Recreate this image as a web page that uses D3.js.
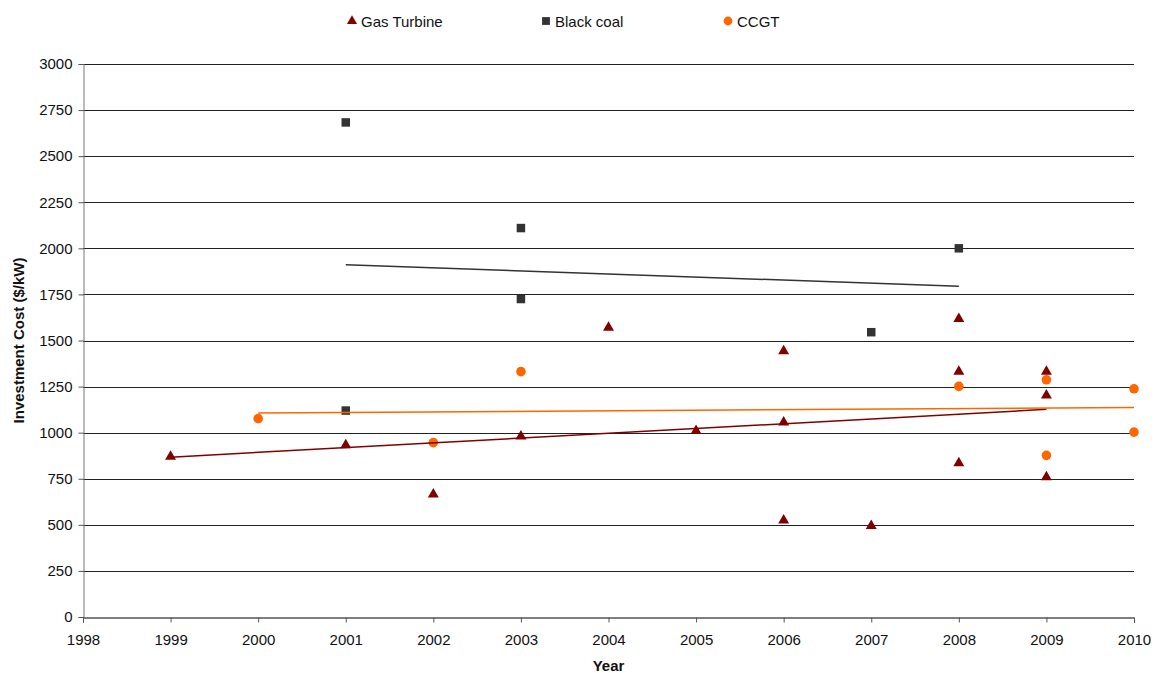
<!DOCTYPE html>
<html>
<head>
<meta charset="utf-8">
<script src="https://cdn.jsdelivr.net/npm/d3@7"></script>
<style>
  html, body { margin: 0; padding: 0; background: #fff; }
  svg text { font-family: "Liberation Sans", Arial, sans-serif; fill: #111; }
</style>
</head>
<body>
<svg id="chart" width="1155" height="673"></svg>
<script>
// Investment cost observations by year ($/kW)
const gasTurbineYears  = [1999, 2001, 2002, 2003, 2004, 2005, 2006, 2006, 2006, 2007, 2008, 2008, 2008, 2009, 2009, 2009];
const gasTurbineCosts  = [870, 932, 665, 980, 1570, 1010, 1443, 1056, 525, 495, 1617, 1332, 835, 1332, 1202, 759];

const blackCoalYears   = [2001, 2001, 2003, 2003, 2007, 2008];
const blackCoalCosts   = [2683, 1120, 2110, 1725, 1545, 2000];

const ccgtYears        = [2000, 2002, 2003, 2008, 2009, 2009, 2010, 2010];
const ccgtCosts        = [1076, 946, 1331, 1251, 1287, 877, 1238, 1003];

const seriesNames      = ["Gas Turbine", "Black coal", "CCGT"];
const xTickValues      = [1998, 1999, 2000, 2001, 2002, 2003, 2004, 2005, 2006, 2007, 2008, 2009, 2010];
const yTickValues      = [0, 250, 500, 750, 1000, 1250, 1500, 1750, 2000, 2250, 2500, 2750, 3000];

const series = [
  { name: seriesNames[0], xs: gasTurbineYears, ys: gasTurbineCosts, color: "#800000", shape: d3.symbolTriangle, size: 52 },
  { name: seriesNames[1], xs: blackCoalYears,  ys: blackCoalCosts,  color: "#333333", shape: d3.symbolSquare,   size: 72 },
  { name: seriesNames[2], xs: ccgtYears,       ys: ccgtCosts,       color: "#FF6600", shape: d3.symbolCircle,   size: 72 }
];

const svg = d3.select("#chart");
const m = { left: 83, right: 1134, top: 64, bottom: 617 };

const x = d3.scaleLinear().domain([1998, 2010]).range([m.left, m.right]);
const y = d3.scaleLinear().domain([0, 3000]).range([m.bottom, m.top]);

// horizontal gridlines
svg.append("g")
  .selectAll("line")
  .data(yTickValues.filter(v => v > 0))
  .join("line")
  .attr("x1", m.left).attr("x2", m.right)
  .attr("y1", d => Math.round(y(d)) + 0.5).attr("y2", d => Math.round(y(d)) + 0.5)
  .attr("stroke", "#222").attr("stroke-width", 1);

// y axis
const yAxis = svg.append("g")
  .attr("transform", `translate(${m.left + 0.5},0)`)
  .call(d3.axisLeft(y).tickValues(yTickValues).tickSize(5).tickPadding(6).tickFormat(d3.format("d")));
yAxis.select(".domain").attr("stroke", "#777");
yAxis.selectAll(".tick line").attr("stroke", "#555");
yAxis.selectAll(".tick text").attr("font-size", 15).attr("fill", "#111");

// x axis
const xAxis = svg.append("g")
  .attr("transform", `translate(0,${Math.round(m.bottom) + 0.5})`)
  .call(d3.axisBottom(x).tickValues(xTickValues).tickSize(5).tickPadding(12).tickFormat(d3.format("d")));
xAxis.select(".domain").attr("stroke", "#000");
xAxis.selectAll(".tick line").attr("stroke", "#555");
xAxis.selectAll(".tick text").attr("font-size", 15).attr("fill", "#111");

// axis titles
svg.append("text")
  .attr("x", (m.left + m.right) / 2).attr("y", 671)
  .attr("text-anchor", "middle").attr("font-size", 15).attr("font-weight", "bold")
  .text("Year");
svg.append("text")
  .attr("transform", `translate(24,${(m.top + m.bottom) / 2}) rotate(-90)`)
  .attr("text-anchor", "middle").attr("font-size", 15).attr("font-weight", "bold")
  .text("Investment Cost ($/kW)");

// markers
series.forEach(s => {
  const pts = s.xs.map((xv, i) => [xv, s.ys[i]]);
  svg.append("g")
    .selectAll("path")
    .data(pts)
    .join("path")
    .attr("d", d3.symbol().type(s.shape).size(s.size))
    .attr("transform", d => `translate(${x(d[0])},${y(d[1])})`)
    .attr("fill", s.color);
});

// least-squares trend line over each series' year range
function fit(xs, ys) {
  const mx = d3.mean(xs), my = d3.mean(ys);
  const sxy = d3.sum(xs, (v, i) => (v - mx) * (ys[i] - my));
  const sxx = d3.sum(xs, v => (v - mx) * (v - mx));
  const b = sxy / sxx;
  return v => my + b * (v - mx);
}
series.forEach(s => {
  const f = fit(s.xs, s.ys);
  const [x0, x1] = d3.extent(s.xs);
  svg.append("line")
    .attr("x1", x(x0)).attr("y1", y(f(x0)))
    .attr("x2", x(x1)).attr("y2", y(f(x1)))
    .attr("stroke", s.color).attr("stroke-width", 1.5);
});

// legend
const legendX = [352, 546, 728];
const lg = svg.append("g");
series.forEach((s, i) => {
  lg.append("path")
    .attr("d", d3.symbol().type(s.shape).size(s.size * 0.85))
    .attr("transform", `translate(${legendX[i]},21)`)
    .attr("fill", s.color);
  lg.append("text")
    .attr("x", legendX[i] + 9).attr("y", 26.5)
    .attr("font-size", 15).attr("fill", "#111")
    .text(s.name);
});
</script>
</body>
</html>
